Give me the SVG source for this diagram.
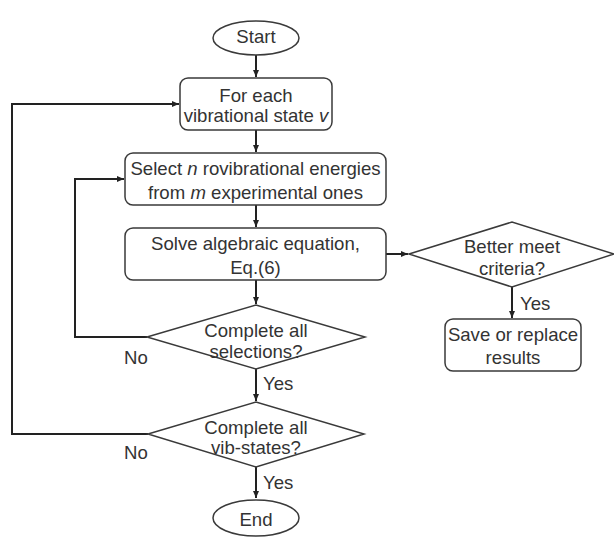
<svg xmlns="http://www.w3.org/2000/svg" width="614" height="538" viewBox="0 0 614 538">
<style>
.n{fill:#fff;stroke:#3a3a3a;stroke-width:1.5}
.c{fill:none;stroke:#222;stroke-width:2}
text{font-family:"Liberation Sans",Arial,sans-serif;font-size:18.6px;fill:#333;text-anchor:middle;dominant-baseline:central}
.l{text-anchor:start}
</style>
<defs>
<marker id="a" markerUnits="userSpaceOnUse" markerWidth="8" markerHeight="8" refX="7" refY="4" orient="auto">
<path d="M0,1 L7,4 L0,7 Z" fill="#222"/>
</marker>
</defs>
<g id="connectors">
<path class="c" d="M256,55 V77" marker-end="url(#a)"/>
<path class="c" d="M256,130 V152" marker-end="url(#a)"/>
<path class="c" d="M256,205 V227" marker-end="url(#a)"/>
<path class="c" d="M256,280 V304" marker-end="url(#a)"/>
<path class="c" d="M256,369 V401" marker-end="url(#a)"/>
<path class="c" d="M256,467 V498" marker-end="url(#a)"/>
<path class="c" d="M386,254 H408" marker-end="url(#a)"/>
<path class="c" d="M512,287 V318" marker-end="url(#a)"/>
<path class="c" d="M147,337 H75 V179 H124" marker-end="url(#a)"/>
<path class="c" d="M148,434 H12 V104 H179" marker-end="url(#a)"/>
<text class="l" x="124" y="357">No</text>
<text class="l" x="124" y="452">No</text>
<text class="l" x="263" y="383">Yes</text>
<text class="l" x="263" y="482">Yes</text>
<text class="l" x="520" y="303">Yes</text>
</g>
<g id="start">
<ellipse class="n" cx="256" cy="38" rx="43" ry="17"/>
<text x="256" y="36">Start</text>
</g>
<g id="foreach">
<rect class="n" x="180" y="78" width="152" height="52" rx="8"/>
<text x="256" y="95">For each</text>
<text x="256" y="115">vibrational state <tspan font-style="italic">v</tspan></text>
</g>
<g id="select">
<rect class="n" x="125" y="153" width="261" height="52" rx="8"/>
<text x="255.5" y="168">Select <tspan font-style="italic">n</tspan> rovibrational energies</text>
<text x="255.5" y="192">from <tspan font-style="italic">m</tspan> experimental ones</text>
</g>
<g id="solve">
<rect class="n" x="125" y="228" width="261" height="52" rx="8"/>
<text x="255.5" y="243">Solve algebraic equation,</text>
<text x="255.5" y="267">Eq.(6)</text>
</g>
<g id="better">
<polygon class="n" points="409,254 512,222 614,254 512,287"/>
<text x="512" y="246">Better meet</text>
<text x="512" y="268">criteria?</text>
</g>
<g id="save">
<rect class="n" x="445" y="319" width="136" height="52" rx="8"/>
<text x="513" y="334">Save or replace</text>
<text x="513" y="357">results</text>
</g>
<g id="selections">
<polygon class="n" points="147,337 256,305 365,337 256,369"/>
<text x="256" y="330">Complete all</text>
<text x="256" y="351">selections?</text>
</g>
<g id="vibstates">
<polygon class="n" points="148,434 256,402 364,434 256,467"/>
<text x="256" y="427">Complete all</text>
<text x="256" y="447">vib-states?</text>
</g>
<g id="end">
<ellipse class="n" cx="256" cy="518" rx="43" ry="18"/>
<text x="256" y="519">End</text>
</g>
</svg>
